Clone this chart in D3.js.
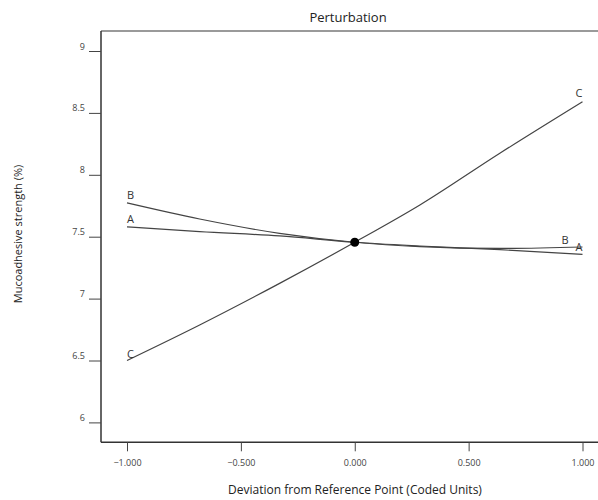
<!DOCTYPE html>
<html>
<head>
<meta charset="utf-8">
<script src="https://cdn.jsdelivr.net/npm/d3@7"></script>
<style>
  body { margin: 0; background: #fff; }
  text { font-family: "Open Sans", "Noto Sans", sans-serif; }
</style>
</head>
<body>
<svg id="chart" width="598" height="500"></svg>
<script>
const devPoints = [-1, -0.681, -0.33, 0, 0.286, 0.637, 1];
const traceA = [7.58, 7.541, 7.506, 7.455, 7.425, 7.395, 7.358];
const traceB = [7.773, 7.643, 7.527, 7.455, 7.420, 7.405, 7.417];
const traceC = [6.50, 6.787, 7.123, 7.455, 7.756, 8.174, 8.59];
const refPoint = [0, 7.455];
const xTicks = [-1, -0.5, 0, 0.5, 1];
const yTicks = [6, 6.5, 7, 7.5, 8, 8.5, 9];

const svg = d3.select("#chart");

let x = d3.scaleLinear().domain([-1, 1]).range([127, 582.5]);
let y = d3.scaleLinear().domain([6, 9]).range([422.4, 51]);

const plotL = 101, plotT = 31, plotB = 442.3, plotR = 598;

// frame
svg.append("line")
    .attr("x1", plotL).attr("x2", plotR)
    .attr("y1", plotT).attr("y2", plotT)
    .attr("stroke", "#9a9a9a").attr("stroke-width", 2);

// y axis
let gy = svg.append("g").attr("transform", `translate(${plotL},0)`)
    .call(d3.axisLeft(y).tickValues(yTicks).tickSize(12).tickPadding(4)
        .tickFormat(d => d3.format("")(d)));
gy.select(".domain").attr("d", `M0,${plotT}V${plotB}`).attr("stroke", "#333").attr("stroke-width", 1.5);
gy.selectAll(".tick line").attr("stroke", "#444");
gy.selectAll(".tick text")
    .attr("dy", "-2px")
    .attr("fill", "#444")
    .style("font-size", "9px")
    .style("font-family", "'Open Sans', sans-serif");

// x axis
let gx = svg.append("g").attr("transform", `translate(0,${plotB})`)
    .call(d3.axisBottom(x).tickValues(xTicks).tickSize(9).tickPadding(8)
        .tickFormat(d3.format(".3f")));
gx.select(".domain").attr("d", `M${plotL},0H${plotR}`).attr("stroke", "#333").attr("stroke-width", 1.5);
gx.selectAll(".tick line").attr("stroke", "#444");
gx.selectAll(".tick text")
    .attr("fill", "#444")
    .style("font-size", "9px")
    .style("font-family", "'Open Sans', sans-serif");

// traces
const traces = [
    {name: "A", vals: traceA, leftDy: -4, rightDx: 0, rightDy: -3},
    {name: "B", vals: traceB, leftDy: -4, rightDx: -14, rightDy: -3},
    {name: "C", vals: traceC, leftDy: -3, rightDx: 0, rightDy: -5}
];

let line = d3.line()
    .x(d => x(d[0]))
    .y(d => y(d[1]))
    .curve(d3.curveMonotoneX);

traces.forEach(t => {
    let pts = devPoints.map((d, i) => [d, t.vals[i]]);
    svg.append("path")
        .attr("d", line(pts))
        .attr("fill", "none")
        .attr("stroke", "#444")
        .attr("stroke-width", 1.2);

    svg.append("text")
        .attr("x", x(-1))
        .attr("y", y(t.vals[0]) + t.leftDy)
        .style("font-size", "11px")
        .attr("fill", "#333")
        .text(t.name);

    svg.append("text")
        .attr("x", x(1) + t.rightDx)
        .attr("y", y(t.vals[t.vals.length - 1]) + t.rightDy)
        .attr("text-anchor", "end")
        .style("font-size", "11px")
        .attr("fill", "#333")
        .text(t.name);
});

// reference point
svg.append("circle")
    .attr("cx", x(refPoint[0]))
    .attr("cy", y(refPoint[1]))
    .attr("r", 4.5)
    .attr("fill", "#000");

// titles
svg.append("text")
    .attr("x", 348).attr("y", 22)
    .attr("text-anchor", "middle")
    .style("font-size", "13px")
    .attr("fill", "#222")
    .text("Perturbation");

svg.append("text")
    .attr("x", 355).attr("y", 494)
    .attr("text-anchor", "middle")
    .style("font-size", "12px")
    .attr("fill", "#222")
    .text("Deviation from Reference Point (Coded Units)");

svg.append("text")
    .attr("transform", "translate(22,234) rotate(-90)")
    .attr("text-anchor", "middle")
    .style("font-size", "11px")
    .attr("fill", "#222")
    .text("Mucoadhesive strength  (%)");
</script>
</body>
</html>
